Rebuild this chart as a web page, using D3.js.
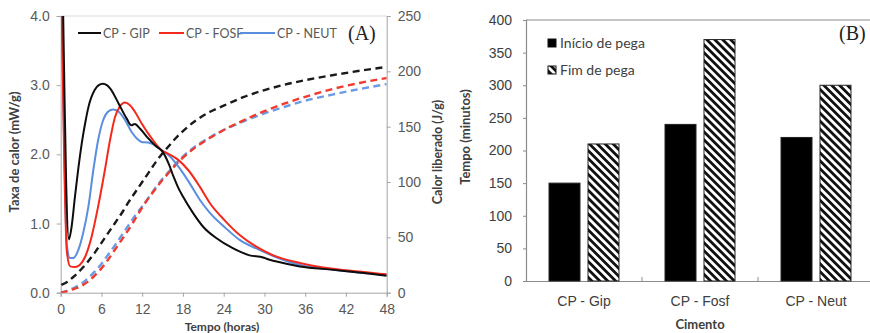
<!DOCTYPE html>
<html><head><meta charset="utf-8">
<script src="https://cdn.jsdelivr.net/npm/d3@7"></script>
<style>
html,body{margin:0;padding:0;background:#fff;}
svg{display:block;font-family:Lato,"Open Sans",sans-serif;}
</style></head>
<body><svg id="c" width="870" height="333"></svg>
<script>
// ---------- Panel A data ----------
const seriesA = ["CP - GIP", "CP - FOSF", "CP - NEUT"];
const xTicksA = [0, 6, 12, 18, 24, 30, 36, 42, 48];
const yTicksA = [0, 1, 2, 3, 4];
const yTicksR = [0, 50, 100, 150, 200, 250];
// heat rate (mW/g): [hours, value]
const rateGIP = [[0.3,4.4],[0.5,3.2],[0.8,1.6],[1.2,0.77],[1.6,0.95],[2.1,1.39],[2.6,1.8],[3.1,2.16],[3.6,2.45],[4.1,2.69],[5.0,2.93],[5.6,3.0],[6.2,3.02],[6.8,3.0],[7.3,2.95],[8.5,2.74],[9.7,2.52],[10.4,2.42],[10.9,2.44],[11.7,2.37],[12.9,2.23],[14.0,2.12],[15.0,2.04],[16.0,1.84],[16.6,1.68],[17.3,1.52],[18.0,1.39],[19.5,1.15],[21.0,0.95],[22.9,0.79],[25.4,0.64],[27.8,0.54],[29.8,0.51],[30.3,0.49],[31.8,0.45],[35.2,0.38],[40.1,0.33],[45,0.28],[48,0.245]];
const rateFOSF = [[0.1,4.4],[0.5,2.0],[0.9,0.6],[1.4,0.38],[2.1,0.37],[2.8,0.40],[3.6,0.52],[4.55,0.81],[5.5,1.24],[6.5,1.77],[7.25,2.2],[8.0,2.54],[8.7,2.69],[9.45,2.75],[10.2,2.71],[10.9,2.62],[11.9,2.45],[13.4,2.23],[14.85,2.06],[15.8,2.01],[17.3,1.92],[18.8,1.77],[20.5,1.53],[22.0,1.29],[24.1,1.05],[26.4,0.83],[28.8,0.665],[31.3,0.54],[35.2,0.43],[40.1,0.345],[45,0.295],[48,0.265]];
const rateNEUT = [[0.1,4.4],[0.5,2.2],[0.9,0.7],[1.37,0.50],[1.86,0.50],[2.6,0.62],[3.3,0.86],[4.07,1.24],[4.8,1.77],[5.5,2.2],[6.27,2.5],[7.0,2.62],[7.7,2.65],[8.5,2.62],[9.45,2.5],[10.4,2.33],[11.2,2.23],[11.9,2.18],[12.9,2.17],[13.9,2.13],[14.85,2.06],[16.1,1.97],[17.5,1.8],[19.0,1.58],[20.5,1.34],[22.0,1.15],[24.1,0.95],[26.4,0.76],[28.8,0.64],[31.3,0.53],[35.2,0.40],[40.1,0.335],[45,0.28],[48,0.255]];
// cumulative heat (J/g)
const heatGIP = [[0.1,7],[1,10],[2,15],[3,21],[4,28],[5,36],[6,45],[7,54],[8,63],[9,72],[10,82],[11,91],[12,100],[13,109],[14,118],[15,126],[16,133],[17,140],[18,146],[20,156],[22,163.5],[24,169],[27,177],[30,183],[33,188],[36,192],[40,196.5],[44,200.5],[48,204]];
const heatFOSF = [[0,0],[1,1.5],[2,3.5],[3,6],[4,10],[5,15.5],[6,22],[7,30],[8,39],[9,48],[10,57],[11,67],[12,77],[13,86],[14,94],[15,102],[16,109],[17,116],[18,122],[20,132],[22,140],[24,147],[27,156],[30,164],[33,171],[36,177],[40,184],[44,189.5],[48,194]];
const heatNEUT = [[0,0],[1,2],[2,4.5],[3,8],[4,13],[5,19],[6,26],[7,34.5],[8,43],[9,52],[10,61],[11,70],[12,78],[13,86.5],[14,95],[15,103],[16,110],[17,117],[18,123],[20,133],[22,140.5],[24,147],[27,155],[30,162],[33,168],[36,173.5],[40,179],[44,184],[48,188.5]];

// ---------- Panel B data ----------
const cementos = ["CP - Gip", "CP - Fosf", "CP - Neut"];
const seriesB = ["Início de pega", "Fim de pega"];
const inicio = [150, 240, 220];
const fim = [210, 370, 300];
const yTicksB = [0, 50, 100, 150, 200, 250, 300, 350, 400];

const colors = {"CP - GIP":"#0d0d0d","CP - FOSF":"#f2291c","CP - NEUT":"#5a8ede"};
const dashColors = {"CP - GIP":"#1a1a1a","CP - FOSF":"#f23a2e","CP - NEUT":"#6a9be4"};

const svg = d3.select("#c");
const defs = svg.append("defs");

// ================= Panel A =================
const A = {l:60.7, r:386.7, t:16, b:292.7};
const x = d3.scaleLinear().domain([0,48]).range([A.l, A.r]);
const yL = d3.scaleLinear().domain([0,4]).range([A.b, A.t]);
const yR = d3.scaleLinear().domain([0,250]).range([A.b, A.t]);

defs.append("clipPath").attr("id","clipA").append("rect")
  .attr("x",A.l).attr("y",A.t).attr("width",A.r-A.l).attr("height",A.b-A.t);

const gA = svg.append("g");
gA.append("line").attr("x1",A.l).attr("x2",A.r).attr("y1",A.t).attr("y2",A.t).attr("stroke","#d9d9d9");

const axX = d3.axisBottom(x).tickValues(xTicksA).tickSize(4).tickFormat(d3.format("d"));
const gx = gA.append("g").attr("transform",`translate(0,${A.b})`).call(axX);
const axL = d3.axisLeft(yL).tickValues(yTicksA).tickSize(4).tickFormat(d3.format(".1f"));
const gl = gA.append("g").attr("transform",`translate(${A.l},0)`).call(axL);
const axR = d3.axisRight(yR).tickValues(yTicksR).tickSize(4);
const gr = gA.append("g").attr("transform",`translate(${A.r},0)`).call(axR);
[gx,gl,gr].forEach(g=>{
  g.select(".domain").attr("stroke","#a6a6a6");
  g.selectAll(".tick line").attr("stroke","#a6a6a6");
  g.selectAll("text").attr("fill","#595959").style("font-size","14px");
});
gx.selectAll("text").attr("dy","1.05em");
gl.selectAll("text").attr("x",-11);
gr.selectAll("text").attr("x",11);

const line = d3.line().x(d=>x(d[0])).curve(d3.curveMonotoneX);
const plotA = gA.append("g").attr("clip-path","url(#clipA)");
const heat = {"CP - GIP":heatGIP,"CP - FOSF":heatFOSF,"CP - NEUT":heatNEUT};
const rate = {"CP - GIP":rateGIP,"CP - FOSF":rateFOSF,"CP - NEUT":rateNEUT};
["CP - NEUT","CP - FOSF","CP - GIP"].forEach(s=>{
  plotA.append("path").datum(heat[s]).attr("fill","none")
    .attr("stroke",dashColors[s]).attr("stroke-width",2.4).attr("stroke-dasharray","7,4.5")
    .attr("d", line.y(d=>yR(d[1])));
});
["CP - NEUT","CP - FOSF","CP - GIP"].forEach(s=>{
  plotA.append("path").datum(rate[s]).attr("fill","none")
    .attr("stroke",colors[s]).attr("stroke-width",2)
    .attr("d", line.y(d=>yL(d[1])));
});

// legend A
const legA = [{s:"CP - GIP",x1:78,x2:101},{s:"CP - FOSF",x1:159,x2:184},{s:"CP - NEUT",x1:240,x2:275}];
legA.forEach(d=>{
  gA.append("line").attr("x1",d.x1).attr("x2",d.x2).attr("y1",33).attr("y2",33)
    .attr("stroke",colors[d.s]).attr("stroke-width",2);
  gA.append("text").attr("x",d.x2+2).attr("y",37.5).text(d.s)
    .attr("fill","#595959").style("font-size","12.5px");
});
gA.append("text").attr("x",348).attr("y",39.5).text("(A)")
  .style("font-family","'Liberation Serif','DejaVu Serif',serif").style("font-size","20px").attr("fill","#222");

// titles A
gA.append("text").attr("transform","translate(19,152) rotate(-90)").attr("text-anchor","middle")
  .text("Taxa de calor (mW/g)").attr("fill","#404040").style("font-size","13px").style("font-weight","bold");
gA.append("text").attr("transform","translate(442,152) rotate(-90)").attr("text-anchor","middle")
  .text("Calor liberado (J/g)").attr("fill","#404040").style("font-size","12.5px").style("font-weight","bold");
gA.append("text").attr("x",222).attr("y",330.5).attr("text-anchor","middle")
  .text("Tempo (horas)").attr("fill","#404040").style("font-size","12px").style("font-weight","bold");

// ================= Panel B =================
const B = {l:526, r:874, t:20, b:281};
const xb = d3.scaleBand().domain(cementos).range([B.l,B.r]);
const xs = d3.scaleBand().domain(seriesB).range([0,xb.bandwidth()]).paddingInner(0.205).paddingOuter(0.59);
const yb = d3.scaleLinear().domain([0,400]).range([B.b,B.t]);

const pat = defs.append("pattern").attr("id","hatch").attr("patternUnits","userSpaceOnUse")
  .attr("width",5.6).attr("height",5.6).attr("patternTransform","rotate(-45)");
pat.append("rect").attr("width",5.6).attr("height",5.6).attr("fill","#fff");
pat.append("rect").attr("x",0).attr("width",2.8).attr("height",5.6).attr("fill","#111");

const gB = svg.append("g");
gB.append("line").attr("x1",B.l).attr("x2",870).attr("y1",B.t).attr("y2",B.t).attr("stroke","#8c8c8c").attr("stroke-width",1.2);

const axYB = d3.axisLeft(yb).tickValues(yTicksB).tickSize(3);
const gyb = gB.append("g").attr("transform",`translate(${B.l},0)`).call(axYB);
gyb.select(".domain").attr("stroke","#8c8c8c").attr("stroke-width",1.2);
gyb.selectAll(".tick line").attr("stroke","#8c8c8c");
gyb.selectAll("text").attr("fill","#404040").style("font-size","14px").attr("x",-14);

const axXB = d3.axisBottom(xb).tickSize(0);
const gxb = gB.append("g").attr("transform",`translate(0,${B.b})`).call(axXB);
gxb.select(".domain").attr("stroke","#8c8c8c").attr("stroke-width",1.2);
gxb.selectAll("text").attr("fill","#404040").style("font-size","14px").attr("dy","1.55em");
gB.selectAll(".sep").data(cementos.slice(1)).enter().append("line")
  .attr("x1",d=>xb(d)).attr("x2",d=>xb(d)).attr("y1",B.b).attr("y2",B.b-4).attr("stroke","#8c8c8c");

const vals = {"Início de pega":inicio,"Fim de pega":fim};
seriesB.forEach(s=>{
  gB.selectAll(".bar"+s.length).data(cementos).enter().append("rect")
    .attr("x",d=>xb(d)+xs(s)).attr("width",xs.bandwidth())
    .attr("y",(d,i)=>yb(vals[s][i])).attr("height",(d,i)=>B.b-yb(vals[s][i]))
    .attr("fill", s==="Início de pega" ? "#000" : "url(#hatch)")
    .attr("stroke","#222").attr("stroke-width",1);
});

// legend B
const legB = [{s:"Início de pega",y:43},{s:"Fim de pega",y:70}];
legB.forEach(d=>{
  gB.append("rect").attr("x",548).attr("y",d.y-4).attr("width",8).attr("height",8)
    .attr("fill", d.s==="Início de pega" ? "#000" : "url(#hatch)").attr("stroke","#111").attr("stroke-width",1);
  gB.append("text").attr("x",560).attr("y",d.y+5).text(d.s).attr("fill","#404040").style("font-size","14px");
});
gB.append("text").attr("x",839).attr("y",40).text("(B)")
  .style("font-family","'Liberation Serif','DejaVu Serif',serif").style("font-size","20px").attr("fill","#222");

gB.append("text").attr("transform","translate(470,137) rotate(-90)").attr("text-anchor","middle")
  .text("Tempo (minutos)").attr("fill","#404040").style("font-size","13px").style("font-weight","bold");
gB.append("text").attr("x",700).attr("y",329).attr("text-anchor","middle")
  .text("Cimento").attr("fill","#404040").style("font-size","13px").style("font-weight","bold");
</script></body></html>
